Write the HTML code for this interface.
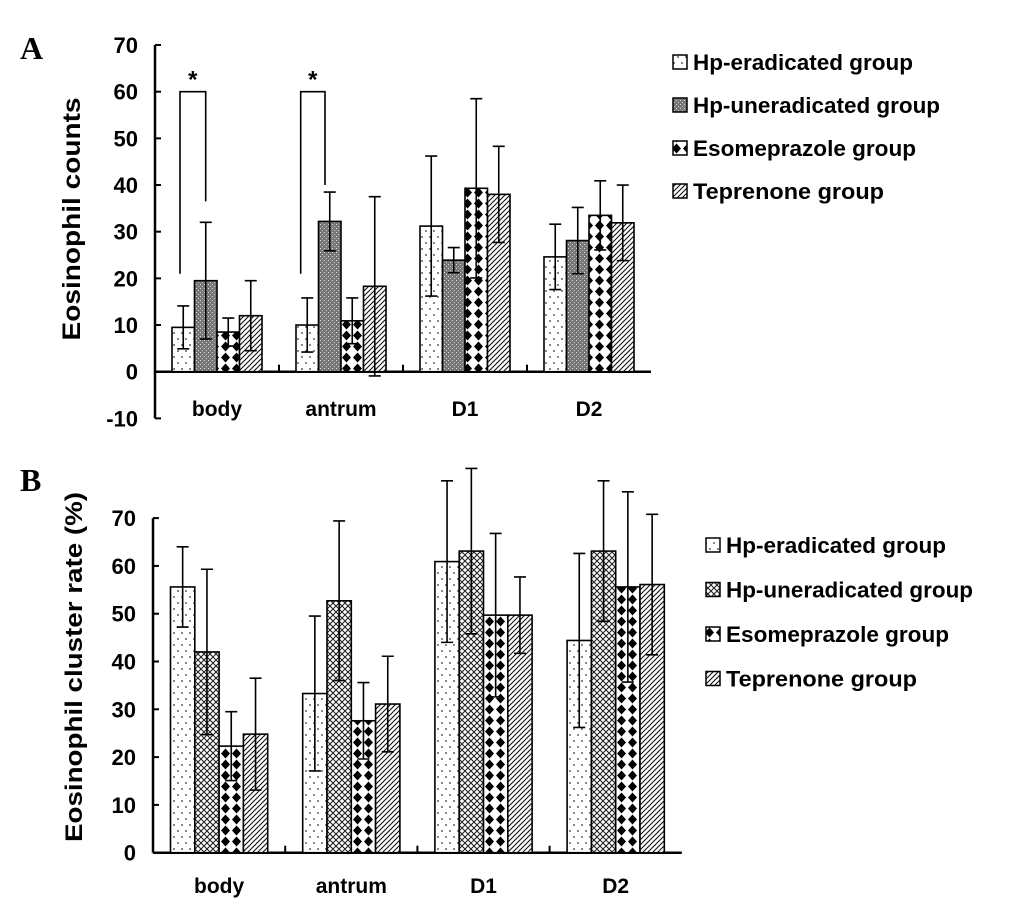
<!DOCTYPE html>
<html><head><meta charset="utf-8"><style>
html,body{margin:0;padding:0;background:#fff;}
svg{display:block;font-family:"Liberation Sans",Arial,sans-serif;}
</style></head><body>
<svg id="chart" width="1033" height="908" viewBox="0 0 1033 908" xmlns="http://www.w3.org/2000/svg">
<defs>
<pattern id="pDots" width="8" height="12" patternUnits="userSpaceOnUse"><rect width="8" height="12" fill="#fff"/><circle cx="2" cy="3" r="0.9" fill="#333"/><circle cx="6" cy="9" r="0.9" fill="#333"/></pattern>
<pattern id="pGray" width="4" height="4" patternUnits="userSpaceOnUse"><rect width="4" height="4" fill="#777"/><rect x="0" y="0" width="1" height="1" fill="#ddd"/><rect x="2" y="2" width="1" height="1" fill="#ccc"/></pattern>
<pattern id="pCross" width="6" height="6" patternUnits="userSpaceOnUse"><rect width="6" height="6" fill="#fff"/><path d="M0,0L6,6M6,0L0,6" stroke="#222" stroke-width="1.1"/></pattern>
<pattern id="pDiam" width="11" height="11" patternUnits="userSpaceOnUse"><rect width="11" height="11" fill="#fff"/><path d="M5.5,0.5L10,5.5L5.5,10.5L1,5.5Z" fill="#000"/></pattern>
<pattern id="pHatch" width="5" height="5" patternUnits="userSpaceOnUse"><rect width="5" height="5" fill="#fff"/><path d="M-1,6L6,-1M-1,1L1,-1M4,6L6,4" stroke="#111" stroke-width="1.1"/></pattern>
</defs>
<text x="20" y="59" font-family="Liberation Serif,serif" font-weight="bold" font-size="32">A</text>
<text x="20" y="491" font-family="Liberation Serif,serif" font-weight="bold" font-size="32">B</text>
<text transform="translate(80,219) rotate(-90)" text-anchor="middle" font-weight="bold" font-size="25" textLength="243" lengthAdjust="spacingAndGlyphs">Eosinophil counts</text>
<text transform="translate(82,667) rotate(-90)" text-anchor="middle" font-weight="bold" font-size="24" textLength="350" lengthAdjust="spacingAndGlyphs">Eosinophil cluster rate (%)</text>
<g id="gA"></g><g id="gB"></g>
</svg>
<script>
const categories = ["body","antrum","D1","D2"];
const groups = ["Hp-eradicated group","Hp-uneradicated group","Esomeprazole group","Teprenone  group"];
const ticksA = [-10,0,10,20,30,40,50,60,70];
const ticksB = [0,10,20,30,40,50,60,70];
const meanA_erad = [9.5,10,31.2,24.6];
const meanA_uner = [19.5,32.2,23.9,28.1];
const meanA_esom = [8.5,10.9,39.3,33.5];
const meanA_tepr = [12,18.3,38,31.9];
const errA_erad = [4.6,5.8,15,7];
const errA_uner = [12.5,6.3,2.7,7.1];
const errA_esom = [3,4.9,19.2,7.4];
const errA_tepr = [7.5,19.2,10.3,8.1];
const meanB_erad = [55.6,33.3,60.9,44.4];
const meanB_uner = [42,52.7,63.1,63.1];
const meanB_esom = [22.3,27.6,49.7,55.6];
const meanB_tepr = [24.8,31.1,49.7,56.1];
const errB_erad = [8.4,16.2,16.9,18.2];
const errB_uner = [17.3,16.7,17.3,14.7];
const errB_esom = [7.2,8,17.1,19.9];
const errB_tepr = [11.7,10,8,14.7];
const fillsA = ["url(#pDots)","url(#pGray)","url(#pDiam)","url(#pHatch)"];
const fillsB = ["url(#pDots)","url(#pCross)","url(#pDiam)","url(#pHatch)"];
const legendWidths = [220,247,223,191];
const NS="http://www.w3.org/2000/svg";
function mk(parent,tag,attrs){const e=document.createElementNS(NS,tag);for(const k in attrs)e.setAttribute(k,attrs[k]);parent.appendChild(e);return e;}
function panel(g,cfg){
  const y=v=>cfg.y0-(v)*cfg.ppu;
  const means=cfg.means, errs=cfg.errs;
  const ax=mk(g,'line',{x1:cfg.ax,x2:cfg.ax,y1:y(cfg.ticks[cfg.ticks.length-1]),y2:y(cfg.ticks[0]),stroke:'#000','stroke-width':2.5});
  
  
  cfg.ticks.forEach(t=>{
    const tl=mk(g,'line',{x1:cfg.ax,x2:cfg.ax+6,y1:y(t),y2:y(t),stroke:'#000','stroke-width':2});
    
    
    const tx=mk(g,'text',{x:cfg.ax-17,y:y(t)+8,'text-anchor':'end','font-weight':'bold','font-size':22});
    tx.textContent=t;
    
    
  });
  const xa=mk(g,'line',{x1:cfg.ax,x2:cfg.ax+cfg.cw*4,y1:y(0),y2:y(0),stroke:'#000','stroke-width':2.5});
  
  
  categories.forEach((c,i)=>{
    const cx0=cfg.ax+i*cfg.cw;
    if(i>0){const t=mk(g,'line',{x1:cx0,x2:cx0,y1:y(0),y2:y(0)-7,stroke:'#000','stroke-width':2});
      
      }
    const lab=mk(g,'text',{x:cx0+cfg.cw/2,y:cfg.labY,'text-anchor':'middle','font-weight':'bold','font-size':21});
    lab.textContent=c;
    
    
    const start=cx0+(cfg.cw-cfg.bw*4)/2;
    for(let s=0;s<4;s++){
      const v=means[s][i], e=errs[s][i];
      const bx=start+s*cfg.bw;
      const r=mk(g,'rect',{x:bx,y:y(v),width:cfg.bw,height:y(0)-y(v),fill:cfg.fills[s],stroke:'#000','stroke-width':1.6});
      
      
      const mx=bx+cfg.bw/2;
      const eb=mk(g,'path',{d:`M${mx},${y(v-e)}L${mx},${y(v+e)}M${mx-6},${y(v+e)}L${mx+6},${y(v+e)}M${mx-6},${y(v-e)}L${mx+6},${y(v-e)}`,stroke:'#000','stroke-width':1.6,fill:'none'});
      
      
    }
  });
  groups.forEach((n,k)=>{
    const ly=cfg.legY+k*cfg.legDy;
    const sw=mk(g,'rect',{x:cfg.legX,y:ly-7,width:cfg.sq,height:cfg.sq,fill:cfg.fills[k],stroke:'#000','stroke-width':1.5});
    
    
    const t=mk(g,'text',{x:cfg.legX+cfg.sq+6,y:ly+8,'font-size':22,'font-weight':'bold',textLength:legendWidths[k],lengthAdjust:'spacingAndGlyphs'});
    t.textContent=n;
    
    
  });
}
const gA=document.getElementById('gA'), gB=document.getElementById('gB');
panel(gA,{ax:155,y0:371.7,ppu:4.667,cw:124,bw:22.5,ticks:ticksA,labY:416,fills:fillsA,
  means:[meanA_erad,meanA_uner,meanA_esom,meanA_tepr],errs:[errA_erad,errA_uner,errA_esom,errA_tepr],
  legX:673,legY:62,legDy:43,sq:14});
panel(gB,{ax:153,y0:852.7,ppu:4.78,cw:132.2,bw:24.3,ticks:ticksB,labY:893,fills:fillsB,
  means:[meanB_erad,meanB_uner,meanB_esom,meanB_tepr],errs:[errB_erad,errB_uner,errB_esom,errB_tepr],
  legX:706,legY:545,legDy:44.5,sq:14});
const yA=v=>371.7-v*4.667;
const brL=[180,300.7], brR=[205.7,325], brLb=[21,21], brRb=[36.5,40];
for(let i=0;i<2;i++){
  const p=mk(gA,'path',{d:`M${brL[i]},${yA(brLb[i])}L${brL[i]},${yA(60)}L${brR[i]},${yA(60)}L${brR[i]},${yA(brRb[i])}`,stroke:'#000','stroke-width':1.6,fill:'none'});
  
  
  const s=mk(gA,'text',{x:(brL[i]+brR[i])/2,y:yA(60)-4,'text-anchor':'middle','font-weight':'bold','font-size':24});
  s.textContent='*';
  
  
}
</script>
</body></html>
